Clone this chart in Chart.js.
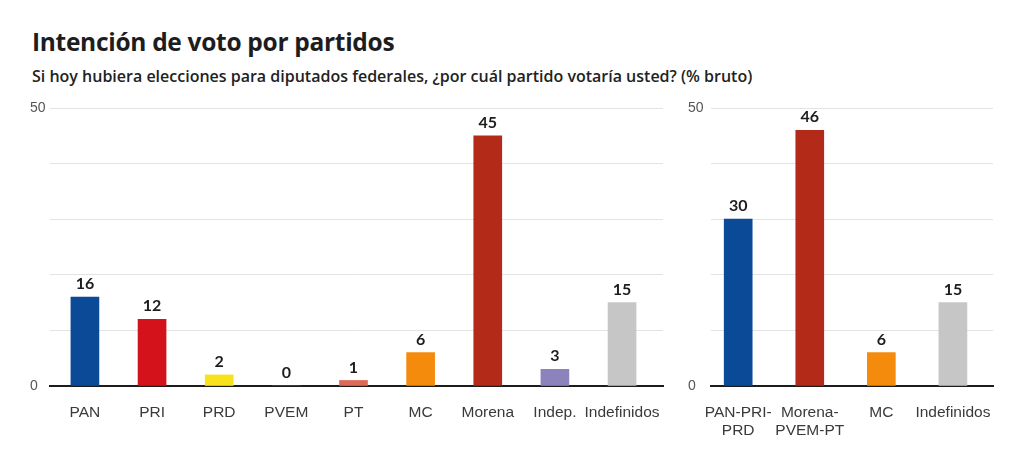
<!DOCTYPE html>
<html lang="es">
<head>
<meta charset="UTF-8">
<title>Intención de voto por partidos</title>
<script src="https://cdn.jsdelivr.net/npm/chart.js"></script>
<style>
    body { margin: 0; background: #fff; font-family: "Lato", "Noto Sans", sans-serif; }
    .wrap { position: relative; width: 1024px; height: 468px; overflow: hidden; }
    h1 { position: absolute; left: 32px; top: 25px; margin: 0; font-family: "Open Sans", sans-serif; font-size: 24.5px; font-weight: 700; color: #1d1d1d; letter-spacing: -0.3px; }
    h2 { position: absolute; left: 32px; top: 65px; margin: 0; font-family: "Open Sans", sans-serif; font-size: 16px; font-weight: 600; color: #222; }
    .box { position: absolute; top: 90px; height: 378px; }
    #left { left: 0; width: 680px; }
    #right { left: 680px; width: 344px; }
</style>
</head>
<body>
<div class="wrap">
    <h1>Intención de voto por partidos</h1>
    <h2>Si hoy hubiera elecciones para diputados federales, ¿por cuál partido votaría usted? (% bruto)</h2>
    <div class="box" id="left"><canvas id="partyChart"></canvas></div>
    <div class="box" id="right"><canvas id="allianceChart"></canvas></div>
</div>
<script>
    const parties = ['PAN', 'PRI', 'PRD', 'PVEM', 'PT', 'MC', 'Morena', 'Indep.', 'Indefinidos'];
    const partyValues = [16, 12, 2, 0, 1, 6, 45, 3, 15];
    const partyColors = ['#0b4a97', '#d4121b', '#f7e21b', '#3a9a3a', '#dc6a58', '#f48b0d', '#b32a18', '#8c83bd', '#c6c6c6'];

    const alliances = [['PAN-PRI-', 'PRD'], ['Morena-', 'PVEM-PT'], 'MC', 'Indefinidos'];
    const allianceValues = [30, 46, 6, 15];
    const allianceColors = ['#0b4a97', '#b32a18', '#f48b0d', '#c6c6c6'];

    const yMin = 0, yMax = 50, yStep = 10;
    const yLabels = [0, 50];

    const valueLabels = {
        id: 'valueLabels',
        afterDatasetsDraw(chart) {
            const ctx = chart.ctx;
            const meta = chart.getDatasetMeta(0);
            ctx.save();
            ctx.font = 'bold 16px Lato, "Noto Sans", sans-serif';
            ctx.fillStyle = '#1d1d1d';
            ctx.textAlign = 'center';
            ctx.textBaseline = 'bottom';
            meta.data.forEach((bar, i) => {
                ctx.fillText(chart.data.datasets[0].data[i].y, bar.x, bar.y - 5);
            });
            ctx.restore();
        }
    };

    // x is a linear index axis so the bars can sit slightly left of the grid, as in the original
    const makeChart = (id, labels, values, colors, xMin, xMax, padLeft, yWidth, padRight) => {
        new Chart(document.getElementById(id), {
            type: 'bar',
            data: {
                datasets: [{
                    data: values.map((v, i) => ({ x: i, y: v })),
                    backgroundColor: colors,
                    barThickness: 28
                }]
            },
            options: {
                responsive: true,
                maintainAspectRatio: false,
                animation: false,
                layout: { padding: { top: 18, right: padRight, left: padLeft, bottom: 0 } },
                plugins: { legend: { display: false }, tooltip: { enabled: false } },
                scales: {
                    x: {
                        type: 'linear',
                        offset: false,
                        min: xMin,
                        max: xMax,
                        grid: { display: false },
                        border: { color: '#1d1d1d', width: 2 },
                        ticks: {
                            color: '#3a3a3a',
                            font: { size: 15.5 },
                            padding: 9,
                            maxRotation: 0,
                            autoSkip: false,
                            callback: v => labels[v]
                        },
                        afterBuildTicks: s => { s.ticks = labels.map((_, i) => ({ value: i })); },
                        afterFit: s => { s.height = 82; }
                    },
                    y: {
                        min: yMin,
                        max: yMax,
                        border: { display: false },
                        grid: { color: '#e3e3e3', lineWidth: 1, drawTicks: false },
                        ticks: {
                            stepSize: yStep,
                            color: '#555',
                            font: { size: 14 },
                            crossAlign: 'far',
                            callback: v => yLabels.includes(v) ? v : ''
                        },
                        afterFit: s => { s.width = yWidth; }
                    }
                }
            },
            plugins: [valueLabels]
        });
    };

    makeChart('partyChart', parties, partyValues, partyColors, -0.52, 8.61, 30, 20, 17);
    makeChart('allianceChart', alliances, allianceValues, allianceColors, -0.38, 3.56, 8, 23, 31);
</script>
</body>
</html>
